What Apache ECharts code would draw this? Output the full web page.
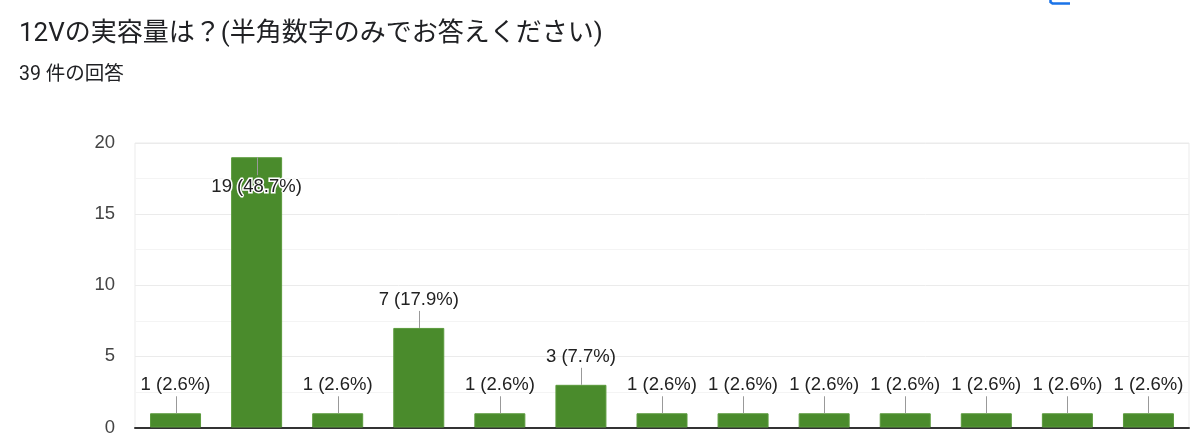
<!DOCTYPE html>
<html>
<head>
<meta charset="utf-8">
<script src="https://cdn.jsdelivr.net/npm/echarts@6/dist/echarts.min.js"></script>
<style>
html,body{margin:0;padding:0;background:#fff;}
#chart{width:1200px;height:437px;}
</style>
</head>
<body>
<div id="chart"></div>
<script>
// ---- data ----
const titleText = '12Vの実容量は？(半角数字のみでお答えください)';
const subtitleText = '39 件の回答';
const totalResponses = 39;
const categories = ['1','2','3','4','5','6','7','8','9','10','11','12','13'];
const counts = [1, 19, 1, 7, 1, 3, 1, 1, 1, 1, 1, 1, 1];
const yTicks = [0, 5, 10, 15, 20];

const labelFont = '18.5px "Liberation Sans", Arial, sans-serif';
const labelTexts = counts.map(v => v + ' (' + (v / totalResponses * 100).toFixed(1) + '%)');

const chart = echarts.init(document.getElementById('chart'), null, {renderer: 'canvas'});
chart.setOption({
  animation: false,
  backgroundColor: '#fff',
  title: [
    {text: titleText, left: 19, top: 21, padding: 0,
     textStyle: {fontSize: 26, fontWeight: 'normal', color: '#202124',
       fontFamily: 'Roboto, "Noto Sans CJK JP", sans-serif'}},
    {text: subtitleText, left: 19, top: 65, padding: 0,
     textStyle: {fontSize: 19.5, fontWeight: 'normal', color: '#202124',
       fontFamily: 'Roboto, "Noto Sans CJK JP", sans-serif'}}
  ],
  graphic: [
    {type: 'polyline', silent: true,
     shape: {points: [[1050.5, 0], [1050.5, 2], [1052.5, 3.5], [1070, 3.5]]},
     style: {stroke: '#1a73e8', lineWidth: 2.5, fill: null}}
  ],
  grid: {left: 135, right: 11, top: 143, bottom: 8, show: true,
         borderColor: '#ebebeb', borderWidth: 1, backgroundColor: 'transparent'},
  xAxis: {
    type: 'category', data: categories,
    axisLine: {show: true, lineStyle: {color: '#333', width: 2}},
    axisTick: {show: false}, axisLabel: {show: false}, splitLine: {show: false}
  },
  yAxis: {
    type: 'value', min: yTicks[0], max: yTicks[yTicks.length - 1], interval: 5,
    axisLine: {show: false}, axisTick: {show: false},
    axisLabel: {color: '#444', fontSize: 18.5, margin: 20,
      fontFamily: '"Liberation Sans", Arial, sans-serif'},
    splitLine: {lineStyle: {color: '#ebebeb', width: 1}},
    minorTick: {show: false, splitNumber: 2},
    minorSplitLine: {show: true, lineStyle: {color: '#f4f4f4', width: 1}}
  },
  series: [
    {type: 'bar', data: counts, barWidth: 51,
     itemStyle: {color: '#4a8b2c', borderColor: '#5a9a3c', borderWidth: 1},
     label: {show: false}},
    {type: 'custom', data: counts.map((v, i) => [i, v]),
     encode: {x: 0, y: 1}, z: 5, silent: true,
     renderItem: function (params, api) {
       const i = api.value(0), v = api.value(1);
       const p = api.coord([i, v]);
       const topY = api.coord([i, yTicks[yTicks.length - 1]])[1];
       const inside = (p[1] - 36) < topY;
       const x = Math.round(p[0]) + 0.5;
       const y1 = p[1];
       const y2 = inside ? p[1] + 18 : p[1] - 17;
       const ty = inside ? p[1] + 30 : p[1] - 28;
       return {
         type: 'group',
         children: [
           {type: 'line', shape: {x1: x, y1: y1, x2: x, y2: y2},
            style: {stroke: '#999', lineWidth: 1}},
           {type: 'text', x: p[0], y: ty,
            style: {text: labelTexts[i], font: labelFont, fill: '#222',
              align: 'center', verticalAlign: 'middle',
              stroke: inside ? '#fff' : null, lineWidth: inside ? 3 : 0}}
         ]
       };
     }}
  ]
});
</script>
</body>
</html>
